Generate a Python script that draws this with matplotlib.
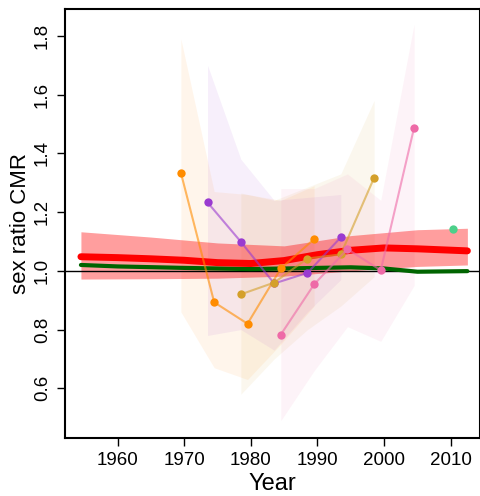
import numpy as np
import matplotlib
matplotlib.use("Agg")
import matplotlib.pyplot as plt

plt.rcParams['font.family'] = ['Liberation Sans', 'DejaVu Sans']

# per-survey estimates (year, ratio) and their uncertainty bands
orange_x = [1969.5, 1974.5, 1979.5, 1984.5, 1989.5]
orange_y = [1.334, 0.893, 0.82, 1.008, 1.108]
orange_hi = [1.79, 1.27, 1.26, 1.24, 1.29]
orange_lo = [0.86, 0.67, 0.63, 0.75, 0.88]

purple_x = [1973.5, 1978.5, 1983.5, 1988.5, 1993.5]
purple_y = [1.233, 1.099, 0.957, 0.993, 1.114]
purple_hi = [1.70, 1.38, 1.24, 1.25, 1.26]
purple_lo = [0.78, 0.80, 0.73, 0.86, 0.97]

gold_x = [1978.5, 1983.5, 1988.5, 1993.5, 1998.5]
gold_y = [0.92, 0.96, 1.042, 1.056, 1.317]
gold_hi = [1.265, 1.24, 1.285, 1.33, 1.58]
gold_lo = [0.58, 0.70, 0.80, 0.88, 0.98]

pink_x = [1984.5, 1989.5, 1994.5, 1999.5, 2004.5]
pink_y = [0.783, 0.954, 1.074, 1.002, 1.487]
pink_hi = [1.28, 1.28, 1.33, 1.24, 1.84]
pink_lo = [0.49, 0.66, 0.81, 0.76, 0.95]

green_pt_x = [2010.4]
green_pt_y = [1.141]

# smoothed global estimate
fit_x = [1954.5, 1960, 1965, 1970, 1975, 1980, 1985, 1990, 1995, 2000, 2005, 2012.5]
fit_y = [1.048, 1.045, 1.041, 1.036, 1.028, 1.025, 1.035, 1.055, 1.070, 1.078, 1.075, 1.068]
band_x = [1954.5, 1965, 1975, 1985, 1995, 2005, 2012.5]
band_hi = [1.133, 1.115, 1.095, 1.085, 1.12, 1.14, 1.145]
band_lo = [0.972, 0.973, 0.975, 0.982, 1.0, 1.015, 1.02]

ref_x = [1954.5, 1960, 1970, 1980, 1990, 1995, 2000, 2005, 2012.5]
ref_y = [1.02, 1.015, 1.01, 1.006, 1.01, 1.012, 1.008, 0.997, 0.999]

series = [
    (orange_x, orange_y, orange_lo, orange_hi, '#ff8c00'),
    (purple_x, purple_y, purple_lo, purple_hi, '#9a3bd0'),
    (gold_x, gold_y, gold_lo, gold_hi, '#d4a02a'),
    (pink_x, pink_y, pink_lo, pink_hi, '#ee6aa7'),
]

fig = plt.figure(figsize=(4.81, 4.96), dpi=100)
ax = fig.add_axes([0.135, 0.117, 0.863, 0.864])

for x, y, lo, hi, c in series:
    ax.fill_between(x, lo, hi, color=c, alpha=0.08, lw=0)

ax.fill_between(band_x, band_lo, band_hi, color='red', alpha=0.38, lw=0)
ax.axhline(1.0, color='black', lw=1)
ax.plot(ref_x, ref_y, color='#006400', lw=3, solid_capstyle='round')
ax.plot(fit_x, fit_y, color='red', lw=5, solid_capstyle='round')

for x, y, lo, hi, c in series:
    ax.plot(x, y, color=c, alpha=0.6, lw=1.5)
    ax.plot(x, y, 'o', color=c, ms=6, mec='none')
ax.plot(green_pt_x, green_pt_y, 'o', color='#4dd08a', ms=6, mec='none')

ax.set_xlim(1952.1, 2014.4)
ax.set_ylim(0.431, 1.89)
ax.set_xticks([1960, 1970, 1980, 1990, 2000, 2010])
ax.set_yticks([0.6, 0.8, 1.0, 1.2, 1.4, 1.6, 1.8])
ax.set_yticklabels(['0.6', '0.8', '1.0', '1.2', '1.4', '1.6', '1.8'], rotation=90, va='center')
ax.tick_params(labelsize=13.5, length=6, width=1, pad=4)
ax.set_xlabel('Year', fontsize=17, labelpad=3)
ax.set_ylabel('sex ratio CMR', fontsize=16, labelpad=2)
for s in ax.spines.values():
    s.set_linewidth(1.5)

fig.savefig('out.png', dpi=100)
